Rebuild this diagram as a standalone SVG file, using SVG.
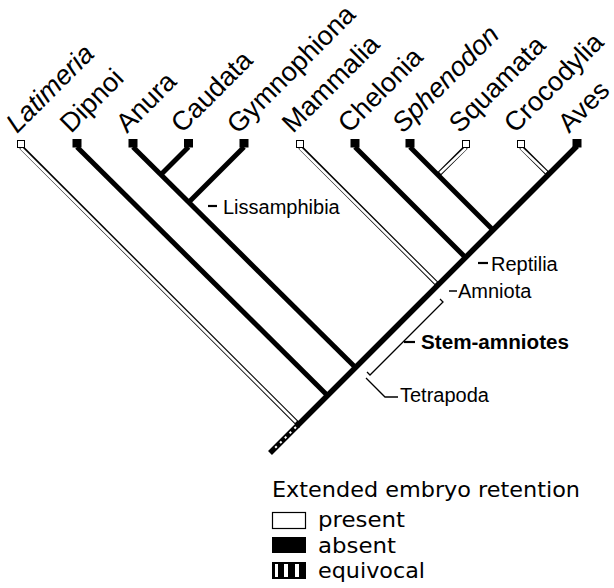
<svg xmlns="http://www.w3.org/2000/svg" width="614" height="588" viewBox="0 0 614 588">
<defs>
<style>
.taxon{font-family:"Liberation Sans",Arial,sans-serif;font-size:27px;fill:#000}
.it{font-style:italic}
.lab{font-family:"Liberation Sans",Arial,sans-serif;font-size:20px;fill:#000}
.bold{font-weight:bold}
.leg{font-family:"DejaVu Sans",Verdana,sans-serif;font-size:21px;fill:#000}
.blk{stroke:#000;stroke-width:5;fill:none;stroke-linecap:butt}
.dblo{stroke:#000;stroke-width:4.6;fill:none}
.dbli{stroke:#fff;stroke-width:2.6;fill:none}
.thin{stroke:#000;stroke-width:1.3;fill:none}
.tipB{fill:#000}
.tipW{fill:#fff;stroke:#000;stroke-width:1}
</style>
</defs>
<rect width="614" height="588" fill="#fff"/>
<g id="connectors">
  <line class="dblo" x1="21" y1="147" x2="298.5" y2="424.5"/>
  <line class="dbli" x1="21" y1="148" x2="296" y2="422"/>
  <line class="dblo" x1="300" y1="147" x2="438" y2="285"/>
  <line class="dbli" x1="300" y1="148" x2="436" y2="283"/>
  <line class="dblo" x1="466" y1="147" x2="438" y2="175"/>
  <line class="dbli" x1="466" y1="148" x2="440" y2="173"/>
  <line class="dblo" x1="521" y1="147" x2="548.5" y2="174.5"/>
  <line class="dbli" x1="521" y1="148" x2="546.5" y2="172.5"/>
  <line class="blk" x1="77" y1="147" x2="328.5" y2="396.5"/>
  <line class="blk" x1="133" y1="147" x2="356.5" y2="368.5"/>
  <line class="blk" x1="188.5" y1="147" x2="161" y2="174.5"/>
  <line class="blk" x1="244" y1="147" x2="188.5" y2="202.5"/>
  <line class="blk" x1="355" y1="147" x2="466.5" y2="258.5"/>
  <line class="blk" x1="410" y1="147" x2="494" y2="231"/>
  <line class="blk" x1="577" y1="146" x2="297" y2="426" style="stroke-width:5.5"/>
  <line class="blk" x1="298" y1="425" x2="270" y2="453" style="stroke-width:5.5"/>
  <line x1="296" y1="427" x2="272" y2="451" stroke="#fff" stroke-width="2" stroke-dasharray="2.2 4.6"/>
</g>
<g id="tips">
  <rect class="tipW" x="17.5" y="140.5" width="7" height="7"/>
  <rect class="tipB" x="72.5" y="139" width="9" height="8.5"/>
  <rect class="tipB" x="128.5" y="139" width="9" height="8.5"/>
  <rect class="tipB" x="184" y="139" width="9" height="8.5"/>
  <rect class="tipB" x="239.5" y="139" width="9" height="8.5"/>
  <rect class="tipW" x="296.5" y="140.5" width="7" height="7"/>
  <rect class="tipB" x="350.5" y="139" width="9" height="8.5"/>
  <rect class="tipB" x="405.5" y="139" width="9" height="8.5"/>
  <rect class="tipW" x="462.5" y="140.5" width="7" height="7"/>
  <rect class="tipW" x="517.5" y="140.5" width="7" height="7"/>
  <rect class="tipB" x="572.5" y="139" width="9" height="8.5"/>
</g>
<g id="taxon-Latimeria"><text class="taxon it" transform="translate(17,134) rotate(-45)">Latimeria</text></g>
<g id="taxon-Dipnoi"><text class="taxon" transform="translate(71,134) rotate(-45)">Dipnoi</text></g>
<g id="taxon-Anura"><text class="taxon" transform="translate(127,134) rotate(-45)">Anura</text></g>
<g id="taxon-Caudata"><text class="taxon" transform="translate(182,134) rotate(-45)">Caudata</text></g>
<g id="taxon-Gymnophiona"><text class="taxon" transform="translate(238,135) rotate(-45)">Gymnophiona</text></g>
<g id="taxon-Mammalia"><text class="taxon" transform="translate(293,134) rotate(-45)">Mammalia</text></g>
<g id="taxon-Chelonia"><text class="taxon" transform="translate(349,134) rotate(-45)">Chelonia</text></g>
<g id="taxon-Sphenodon"><text class="taxon it" transform="translate(403,134) rotate(-45)">Sphenodon</text></g>
<g id="taxon-Squamata"><text class="taxon" transform="translate(460,134) rotate(-45)">Squamata</text></g>
<g id="taxon-Crocodylia"><text class="taxon" transform="translate(515,134) rotate(-45)">Crocodylia</text></g>
<g id="taxon-Aves"><text class="taxon" transform="translate(569,134) rotate(-45)">Aves</text></g>
<g id="clade-Lissamphibia">
  <line x1="208" y1="206" x2="217" y2="206" stroke="#000" stroke-width="2.2"/>
  <text class="lab" x="223" y="214">Lissamphibia</text>
</g>
<g id="clade-Reptilia">
  <line x1="478" y1="263" x2="488" y2="263" stroke="#000" stroke-width="2.2"/>
  <text class="lab" x="491" y="271">Reptilia</text>
</g>
<g id="clade-Amniota">
  <line x1="449" y1="291" x2="457" y2="291" stroke="#000" stroke-width="1.5"/>
  <text class="lab" x="458" y="298">Amniota</text>
</g>
<g id="clade-Stem-amniotes">
  <polyline class="thin" points="440,299 443,302 370,375 367,372"/>
  <line x1="404" y1="342" x2="415" y2="342" stroke="#000" stroke-width="2.2"/>
  <text class="lab bold" x="421" y="349" textLength="148" lengthAdjust="spacingAndGlyphs">Stem-amniotes</text>
</g>
<g id="clade-Tetrapoda">
  <polyline class="thin" points="366,378 385,397 398,397"/>
  <text class="lab" x="400" y="402">Tetrapoda</text>
</g>
<g id="legend">
  <text class="leg" x="272" y="497" textLength="308" lengthAdjust="spacingAndGlyphs">Extended embryo retention</text>
  <rect x="272.5" y="512.5" width="33" height="16" fill="#fff" stroke="#000" stroke-width="1.2"/>
  <text class="leg" x="318" y="527" textLength="87" lengthAdjust="spacingAndGlyphs">present</text>
  <rect x="272" y="537" width="34" height="16" fill="#000"/>
  <text class="leg" x="318" y="553" textLength="78" lengthAdjust="spacingAndGlyphs">absent</text>
  <rect x="272" y="562" width="34" height="17" fill="#000"/>
  <rect x="275" y="564" width="3" height="13" fill="#fff"/>
  <rect x="284" y="564" width="4" height="13" fill="#fff"/>
  <rect x="295" y="564" width="4" height="13" fill="#fff"/>
  <text class="leg" x="318" y="578" textLength="107" lengthAdjust="spacingAndGlyphs">equivocal</text>
</g>
</svg>
